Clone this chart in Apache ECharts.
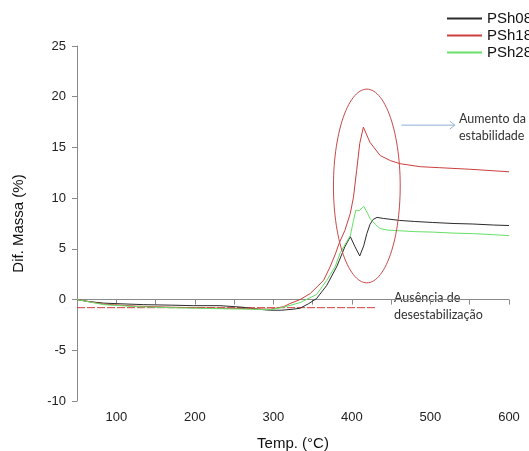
<!DOCTYPE html>
<html>
<head>
<meta charset="utf-8">
<script src="https://cdn.jsdelivr.net/npm/echarts@6/dist/echarts.min.js"></script>
<style>html,body{margin:0;padding:0;background:#fff}#c{width:529px;height:451px}</style>
</head>
<body>
<div id="c"></div>
<script>
const seriesNames = ['PSh08', 'PSh18', 'PSh28'];
const xTicks = [100, 200, 300, 400, 500, 600];
const yTicks = [-10, -5, 0, 5, 10, 15, 20, 25];

const psh08 = [
  [50, 0.0], [65, -0.2], [84, -0.35], [100, -0.4], [135, -0.5], [170, -0.55], [198, -0.6],
  [232, -0.6], [260, -0.75], [280, -0.95], [296, -1.05], [310, -1.05], [325, -0.95], [334, -0.85],
  [345, -0.4], [355, 0.1], [368, 1.4], [381, 3.3], [391, 5.2], [398, 6.2], [404, 5.2],
  [410, 4.3], [415, 5.3], [419, 6.5], [423, 7.4], [427, 7.9], [432, 8.1], [440, 8.0],
  [461, 7.8], [480, 7.7], [503, 7.6], [530, 7.5], [554, 7.45], [580, 7.35], [600, 7.3]
];
const psh18 = [
  [50, 0.0], [84, -0.45], [126, -0.65], [169, -0.75], [232, -0.85], [270, -0.9], [296, -0.95],
  [313, -0.7], [321, -0.4], [334, 0.0], [347, 0.6], [364, 1.9], [372, 3.2], [379, 4.5],
  [384, 5.6], [391, 6.8], [398, 8.5], [402, 10.1], [406, 12.7], [410, 15.4], [414.6, 17.0],
  [423, 15.5], [436, 14.2], [449, 13.7], [461, 13.4], [487, 13.1], [512, 13.0], [550, 12.85],
  [600, 12.6]
];
const psh28 = [
  [50, 0.0], [84, -0.5], [126, -0.7], [169, -0.8], [232, -0.9], [270, -0.95], [296, -1.0],
  [313, -0.75], [334, -0.3], [355, 0.5], [368, 1.9], [379, 3.3], [385, 4.6], [391, 5.4],
  [398, 6.3], [402, 7.8], [405, 8.8], [410, 8.8], [415, 9.2], [420, 8.5], [423, 8.0],
  [430, 7.4], [436, 7.0], [445, 6.85], [457, 6.8], [480, 6.7], [503, 6.65], [530, 6.55],
  [555, 6.5], [580, 6.4], [600, 6.3]
];
// annotations (data coordinates)
const baseLine = [[50, -0.8], [430, -0.8]];
const ellipse = [[419, 11.2, 42.5, 9.55]]; // cx, cy, rx (°C), ry (%)
const arrow = [[463, 531, 17.2]];          // x1, x2, y

const chart = echarts.init(document.getElementById('c'), null, {renderer: 'canvas'});
const axisGray = '#8a8a8a';
const labelFont = 'Liberation Sans';

chart.setOption({
  animation: false,
  backgroundColor: '#fff',
  grid: {left: 77, right: 20, top: 46, bottom: 50, containLabel: false, outerBoundsMode: 'none'},
  legend: {
    data: seriesNames,
    orient: 'vertical',
    left: 441, top: 6,
    itemWidth: 35, itemHeight: 14, itemGap: 2,
    itemStyle: {opacity: 0},
    textStyle: {fontFamily: labelFont, fontSize: 15, color: '#111'}
  },
  xAxis: {
    type: 'value', min: 50, max: 600, interval: 50,
    name: 'Temp. (°C)', nameLocation: 'middle', nameGap: 35,
    nameTextStyle: {fontFamily: labelFont, fontSize: 15, color: '#111'},
    axisLine: {lineStyle: {color: axisGray}},
    axisTick: {show: true, length: 5, lineStyle: {color: axisGray}},
    splitLine: {show: false},
    axisLabel: {
      fontFamily: labelFont, fontSize: 13, color: '#222', margin: 10,
      formatter: v => (xTicks.indexOf(v) >= 0 ? String(v) : '')
    }
  },
  yAxis: {
    type: 'value', min: -10, max: 25, interval: 5,
    name: 'Dif. Massa (%)', nameLocation: 'middle', nameGap: 51, nameRotate: 90,
    nameTextStyle: {fontFamily: labelFont, fontSize: 15, color: '#111'},
    axisLine: {show: true, lineStyle: {color: axisGray}},
    axisTick: {show: true, length: 5, lineStyle: {color: axisGray}},
    splitLine: {show: false},
    axisLabel: {
      fontFamily: labelFont, fontSize: 13, color: '#222', margin: 11,
      formatter: v => (yTicks.indexOf(v) >= 0 ? String(v) : '')
    }
  },
  series: [
    {name: 'baseline', type: 'line', data: baseLine, symbol: 'none', silent: true,
     lineStyle: {color: '#d23c3c', width: 1, type: [8, 2]}, z: 1},
    {name: 'PSh08', type: 'line', data: psh08, symbol: 'none', color: '#2b2b2b',
     lineStyle: {color: '#2b2b2b', width: 1}, z: 3},
    {name: 'PSh18', type: 'line', data: psh18, symbol: 'none', color: '#cc3f3f',
     lineStyle: {color: '#cc3f3f', width: 1}, z: 3},
    {name: 'PSh28', type: 'line', data: psh28, symbol: 'none', color: '#66e066',
     lineStyle: {color: '#66e066', width: 1}, z: 3},
    {name: 'ellipse', type: 'custom', data: ellipse, silent: true, z: 4,
     renderItem: function (params, api) {
       const c = api.coord([api.value(0), api.value(1)]);
       const s = api.size([api.value(2), api.value(3)]);
       const pts = [];
       for (let i = 0; i <= 120; i++) {
         const a = i / 120 * Math.PI * 2;
         pts.push([c[0] + s[0] * Math.cos(a), c[1] + s[1] * Math.sin(a)]);
       }
       return {type: 'polyline', shape: {points: pts},
               style: {stroke: '#c8494b', lineWidth: 1, fill: null}};
     }},
    {name: 'arrow', type: 'custom', data: arrow, silent: true, z: 4,
     renderItem: function (params, api) {
       const p1 = api.coord([api.value(0), api.value(2)]);
       const p2 = api.coord([api.value(1), api.value(2)]);
       const st = {stroke: '#8fb0d6', lineWidth: 1, fill: null};
       return {type: 'group', children: [
         {type: 'line', shape: {x1: p1[0], y1: p1[1], x2: p2[0], y2: p2[1]}, style: st},
         {type: 'polyline', shape: {points: [[p2[0] - 5, p2[1] - 4], [p2[0], p2[1]], [p2[0] - 5, p2[1] + 4]]}, style: st}
       ]};
     }}
  ],
  graphic: [
    {type: 'text', left: 459, top: 112, style: {text: 'Aumento da', font: '12.5px Lato', fill: '#333'}},
    {type: 'text', left: 459, top: 129, style: {text: 'estabilidade', font: '12.5px Lato', fill: '#333'}},
    {type: 'text', left: 394, top: 291, style: {text: 'Ausência de', font: '12.5px Lato', fill: '#333'}},
    {type: 'text', left: 394, top: 308, style: {text: 'desestabilização', font: '12.5px Lato', fill: '#333'}}
  ]
});
</script>
</body>
</html>
